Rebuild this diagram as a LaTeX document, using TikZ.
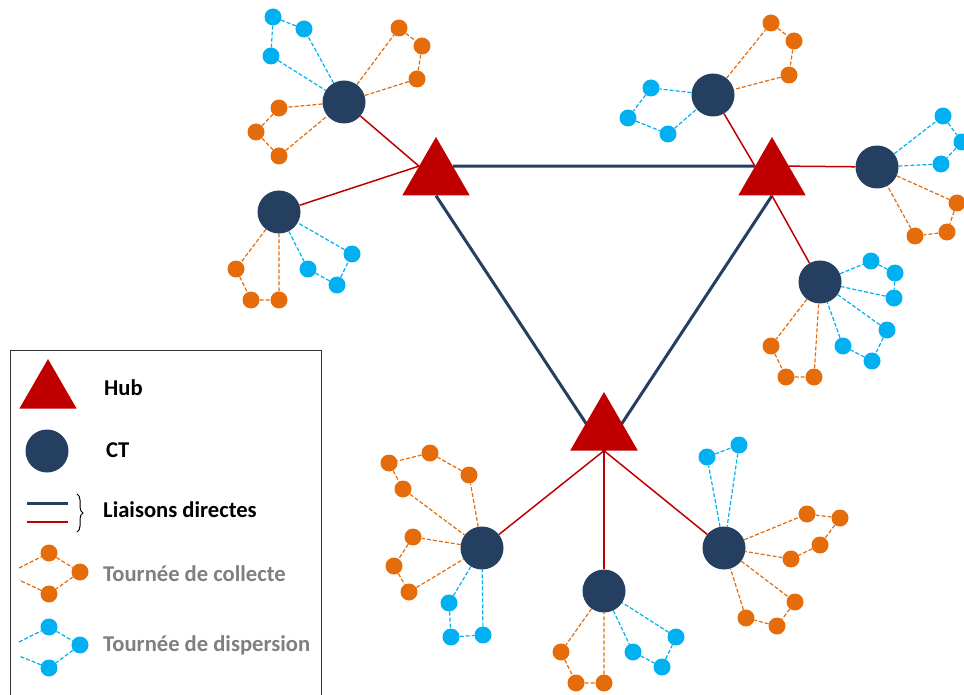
\documentclass[tikz,border=0pt]{standalone}
\usepackage{fontspec}
\setmainfont{Carlito}
\usetikzlibrary{shapes.geometric,backgrounds,decorations.pathreplacing}
\definecolor{hubred}{RGB}{192,0,0}
\definecolor{ctblue}{RGB}{36,63,96}
\definecolor{colorange}{RGB}{228,108,10}
\definecolor{dispblue}{RGB}{0,176,240}
\definecolor{leggray}{RGB}{127,127,127}
\begin{document}
\begin{tikzpicture}[x=1pt,y=-1pt,
    hub/.style={regular polygon,regular polygon sides=3,fill=hubred,inner sep=0pt,minimum size=78pt},
    ct/.style={circle,fill=ctblue,inner sep=0pt,minimum size=43pt},
    pc/.style={circle,fill=colorange,inner sep=0pt,minimum size=17pt},
    pd/.style={circle,fill=dispblue,inner sep=0pt,minimum size=17pt},
    direct/.style={ctblue,line width=3pt},
    feed/.style={hubred,line width=1.5pt},
    col/.style={colorange,line width=1.2pt,dash pattern=on 4pt off 2pt},
    dis/.style={dispblue,line width=1.2pt,dash pattern=on 4pt off 2pt},
    lab/.style={anchor=west,inner sep=0pt,font=\bfseries\fontsize{22.6}{27}\selectfont}]
      \useasboundingbox (0,0) rectangle (964,695);
      \node[hub] (hubL) at (436,176) {};
      \node[hub] (hubR) at (772,176) {};
      \node[hub] (hubB) at (604,431) {};

      \foreach \n/\x/\y in {ct1/344/102,ct2/279/212,ct3/713/95,ct4/877/167,
                            ct5/820/282,ct6/482/548,ct7/604/591,ct8/724/548}
        \node[ct] (\n) at (\x,\y) {};

      \foreach \n/\x/\y in {c11/399/28,c12/422/46,c13/417/79,c14/279/108,c15/256/132,c16/279/156,
                            c21/236/269,c22/251/300,c23/279/300,
                            c31/771/23,c32/794/41,c33/789/75,
                            c41/957/203,c42/947/232,c43/915/236,
                            c51/771/346,c52/786/377,c53/814/377,
                            c61/469/475,c62/430/453,c63/389/463,c64/403/489,c65/413/537,c66/394/566,c67/409/592,
                            c71/561/652,c72/576/683,c73/604/683,
                            c81/807/514,c82/840/518,c83/820/545,c84/791/559,c85/795/602,c86/777/626,c87/746/618}
        \node[pc] (\n) at (\x,\y) {};

      \foreach \n/\x/\y in {d11/304/29,d12/273/17,d13/271/56,
                            d21/308/269,d22/337/285,d23/352/254,
                            d31/651/88,d32/628/118,d33/668/134,
                            d41/943/116,d42/962/142,d43/941/164,
                            d51/871/261,d52/895/273,d53/894/298,d54/887/330,d55/872/361,d56/843/346,
                            d61/449/603,d62/451/637,d63/483/635,
                            d71/633/652,d72/662/667,d73/676/637,
                            d81/707/457,d82/739/445}
        \node[pd] (\n) at (\x,\y) {};

      \begin{pgfonlayer}{background}
      \draw[direct] (hubL.side 3) -- (hubR.side 1);
      \draw[direct] (hubL.side 2) -- (hubB.side 2);
      \draw[direct] (hubR.side 2) -- (hubB.side 2);

      \draw[feed] (ct1) -- (hubL.side 1);
      \draw[feed] (ct2) -- (hubL.side 1);
      \draw[feed] (ct3) -- (hubR.side 1);
      \draw[feed] (ct4) -- (hubR.side 3);
      \draw[feed] (ct5) -- (hubR.side 2);
      \draw[feed] (ct6) -- (hubB.side 2);
      \draw[feed] (ct7) -- (hubB.side 2);
      \draw[feed] (ct8) -- (hubB.side 2);

      \draw[col] (ct1) -- (c11) -- (c12) -- (c13) -- (ct1) -- (c14) -- (c15) -- (c16) -- (ct1);
      \draw[dis] (ct1) -- (d11) -- (d12) -- (d13) -- (ct1);
      \draw[col] (ct2) -- (c21) -- (c22) -- (c23) -- (ct2);
      \draw[dis] (ct2) -- (d21) -- (d22) -- (d23) -- (ct2);
      \draw[col] (ct3) -- (c31) -- (c32) -- (c33) -- (ct3);
      \draw[dis] (ct3) -- (d31) -- (d32) -- (d33) -- (ct3);
      \draw[col] (ct4) -- (c41) -- (c42) -- (c43) -- (ct4);
      \draw[dis] (ct4) -- (d41) -- (d42) -- (d43) -- (ct4);
      \draw[col] (ct5) -- (c51) -- (c52) -- (c53) -- (ct5);
      \draw[dis] (ct5) -- (d51) -- (d52) -- (d53) -- (ct5) -- (d54) -- (d55) -- (d56) -- (ct5);
      \draw[col] (ct6) -- (c61) -- (c62) -- (c63) -- (c64) -- (ct6) -- (c65) -- (c66) -- (c67) -- (ct6);
      \draw[dis] (ct6) -- (d61) -- (d62) -- (d63) -- (ct6);
      \draw[col] (ct7) -- (c71) -- (c72) -- (c73) -- (ct7);
      \draw[dis] (ct7) -- (d71) -- (d72) -- (d73) -- (ct7);
      \draw[col] (ct8) -- (c81) -- (c82) -- (c83) -- (c84) -- (ct8) -- (c85) -- (c86) -- (c87) -- (ct8);
      \draw[dis] (ct8) -- (d81) -- (d82) -- (ct8);
      \end{pgfonlayer}

      \draw[black!80,line width=1pt] (10,350) rectangle (321,720);
      \node[hub,minimum size=66pt] (lhub) at (48,392) {};
      \node[lab] (thub) at (104,388) {Hub};
      \node[ct] (lct) at (47,451) {};
      \node[lab] (tct) at (106,450) {CT};
      \coordinate (ld1) at (27,503); \coordinate (ld2) at (68,503);
      \coordinate (lf1) at (27,522); \coordinate (lf2) at (68,522);
      \draw[direct] (ld1) -- (ld2);
      \draw[feed] (lf1) -- (lf2);
      \draw[decorate,decoration={brace,amplitude=6pt},line width=1pt] (77,494) -- (77,532);
      \node[lab] (tdir) at (103,510) {Liaisons directes};

      \node[pc] (lc1) at (49,553) {};
      \node[pc] (lc2) at (80,572) {};
      \node[pc] (lc3) at (49,594) {};
      \coordinate (lc0) at (19,568); \coordinate (lc4) at (19,580);
      \node[lab,text=leggray] (tcol) at (103,574) {Tournée de collecte};
      \node[pd] (ld1) at (49,627) {};
      \node[pd] (ld2) at (80,645) {};
      \node[pd] (ld3) at (49,668) {};
      \coordinate (ld0) at (19,642); \coordinate (ld4) at (19,656);
      \node[lab,text=leggray] (tdis) at (103,645) {Tournée de dispersion};
      \begin{pgfonlayer}{background}
      \draw[col] (lc0) -- (lc1) -- (lc2) -- (lc3) -- (lc4);
      \draw[dis] (ld0) -- (ld1) -- (ld2) -- (ld3) -- (ld4);
      \end{pgfonlayer}
    \end{tikzpicture}
\end{document}
